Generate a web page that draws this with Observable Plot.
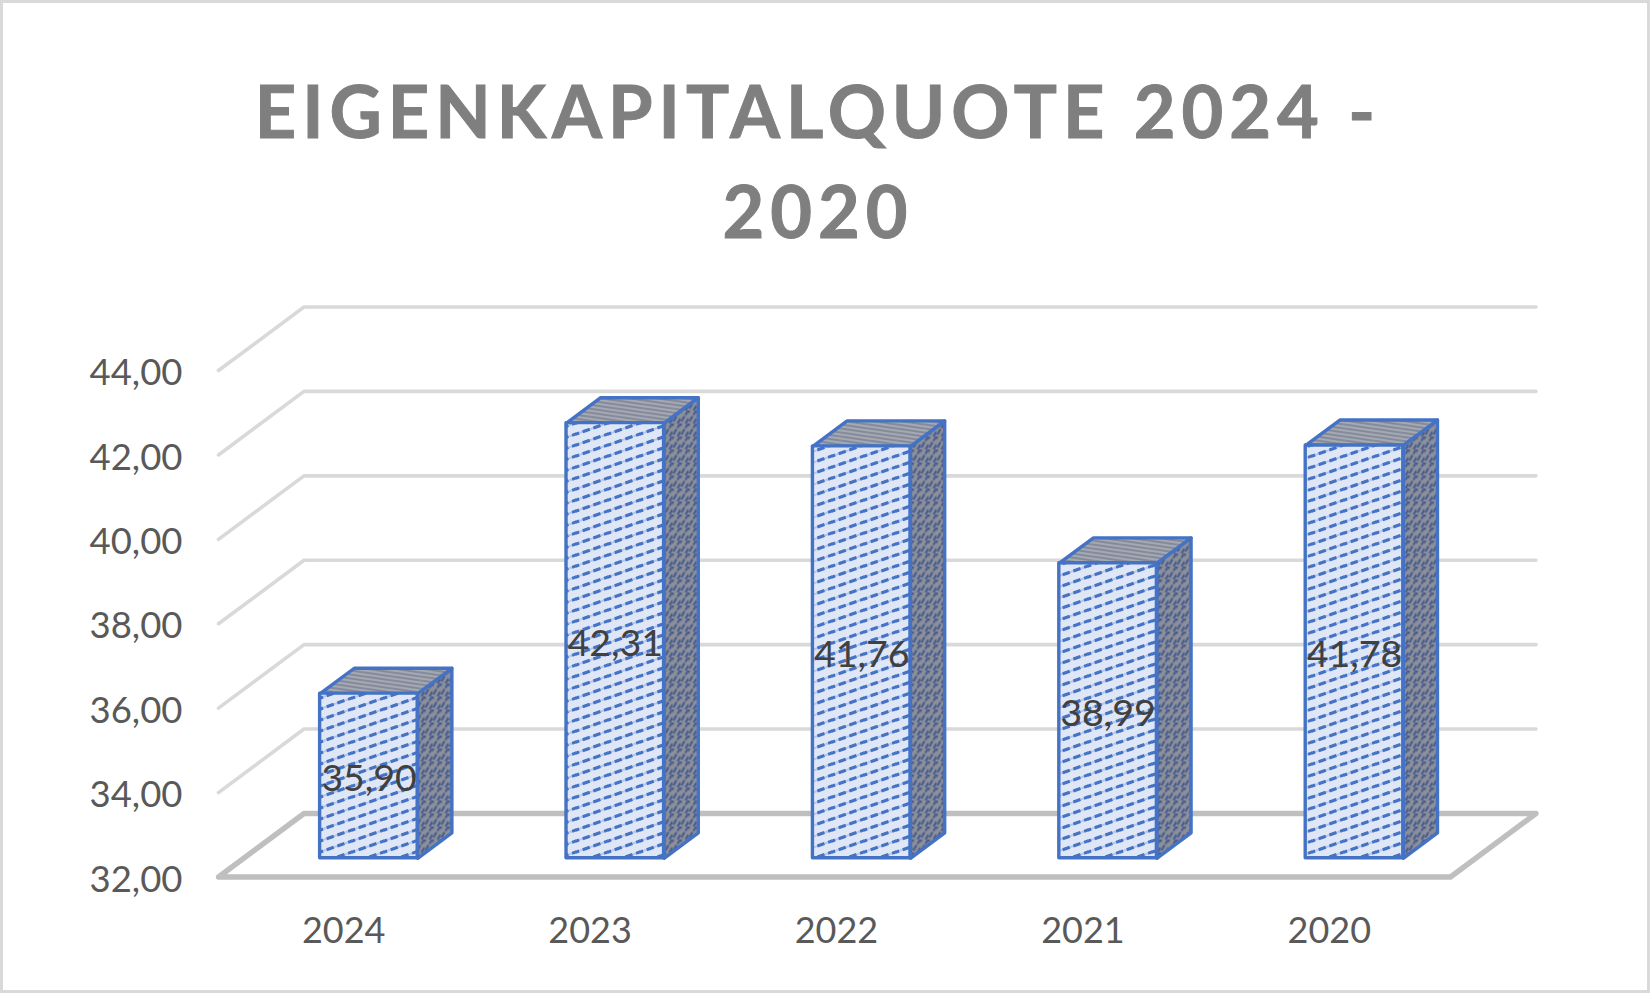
<!DOCTYPE html>
<html lang="de">
<head>
<meta charset="utf-8">
<title>Eigenkapitalquote 2024 - 2020</title>
<script src="https://cdn.jsdelivr.net/npm/d3@7"></script>
<script src="https://cdn.jsdelivr.net/npm/@observablehq/plot@0.6"></script>
<style>
  html, body { margin: 0; padding: 0; background: #fff; }
  #chart { position: relative; width: 1650px; height: 993px; overflow: hidden; }
  #chart::after { content: ""; position: absolute; inset: 0; border: 3px solid #d9d9d9; pointer-events: none; }
  h1 {
    margin: 0; height: 280px; box-sizing: border-box; padding: 60px 14px 0 0;
    font: 700 72px/100px Lato, sans-serif; letter-spacing: 6px;
    -webkit-text-stroke: 1px #7f7f7f;
    color: #7f7f7f; text-align: center;
  }
  svg { display: block; }
</style>
</head>
<body>
<div id="chart">
  <h1>EIGENKAPITALQUOTE 2024 -<br>2020</h1>
</div>
<script>
const categories = ["2024", "2023", "2022", "2021", "2020"];
const values = [35.90, 42.31, 41.76, 38.99, 41.78];
const gridValues = [32, 34, 36, 38, 40, 42, 44];

const yBase = 32;
const yMax = 44;
const depthX = 0.347;   // category units covered by the full chart depth
const depthY = 1.505;   // value units covered by the full chart depth
const barWidth = 0.396; // share of a category step
const barOffset = 0.008;
const barDepth = [0.295, 0.695];

const comma = (v) => v.toFixed(2).replace(".", ",");
const px = (i, side, d) => i + 0.5 + barOffset + side * barWidth / 2 + d * depthX;
const py = (v, d) => v + d * depthY;

const gridPaths = gridValues.slice(1).flatMap((v) => [
  {v, x: 0, y: v},
  {v, x: depthX, y: py(v, 1)},
  {v, x: categories.length + depthX, y: py(v, 1)}
]);
const floor = [
  {x: 0, y: yBase},
  {x: depthX, y: py(yBase, 1)},
  {x: categories.length + depthX, y: py(yBase, 1)},
  {x: categories.length, y: yBase}
];

const [d0, d1] = barDepth;
const bars = values.map((v, i) => ({i, v, label: comma(v)}));
const sides = bars.flatMap(({i, v}) => [
  {i, x: px(i, 1, d0), y: py(yBase, d0)},
  {i, x: px(i, 1, d1), y: py(yBase, d1)},
  {i, x: px(i, 1, d1), y: py(v, d1)},
  {i, x: px(i, 1, d0), y: py(v, d0)}
]);
const tops = bars.flatMap(({i, v}) => [
  {i, x: px(i, -1, d0), y: py(v, d0)},
  {i, x: px(i, -1, d1), y: py(v, d1)},
  {i, x: px(i, 1, d1), y: py(v, d1)},
  {i, x: px(i, 1, d0), y: py(v, d0)}
]);

const patterns = () => {
  const defs = d3.create("svg:defs");
  const add = (id, w, h, bg, layers) => {
    const p = defs.append("pattern").attr("id", id).attr("patternUnits", "userSpaceOnUse")
      .attr("width", w).attr("height", h);
    p.append("rect").attr("width", w).attr("height", h).attr("fill", bg);
    for (const [stroke, sw, d, dash] of layers) {
      p.append("path").attr("d", d).attr("stroke", stroke).attr("stroke-width", sw)
        .attr("fill", "none").attr("stroke-dasharray", dash || null);
    }
  };
  const frontLine = "M-4 12.4L36 -1.4M-4 23.4L36 9.6M-4 1.4L36 -12.4";
  add("hatchFront", 32, 11, "#dfe7f6", [
    ["#b4c5e9", 1.8, frontLine],
    ["#4472c4", 3.1, frontLine, "7.5 3.8"]
  ]);
  add("hatchSide", 8, 13, "#8d9098", [
    ["#43588f", 2, "M1 11L4 5.5M5 4.5L7.5 0M-1 3.5L1 0M5 13L8 8"]
  ]);
  add("hatchTop", 28, 4, "#a6a9b1", [
    ["#66718a", 1.2, "M-4 -0.57L32 4.57M-4 -4.57L32 0.57M-4 3.43L32 8.57"]
  ]);
  return defs.node();
};

const frontLeft = (d) => px(d.i, -1, d0);
const frontRight = (d) => px(d.i, 1, d0);

const plot = Plot.plot({
  width: 1650,
  height: 713,
  marginLeft: 218,
  marginRight: 114.5,
  marginTop: 26.5,
  marginBottom: 116.5,
  style: {background: "transparent", fontFamily: "Lato, sans-serif"},
  x: {type: "linear", domain: [0, categories.length + depthX]},
  y: {type: "linear", domain: [yBase, py(yMax, 1)]},
  marks: [
    patterns,
    Plot.line(gridPaths, {x: "x", y: "y", z: "v", stroke: "#d9d9d9", strokeWidth: 3.6}),
    Plot.line(floor, {x: "x", y: "y", curve: "linear-closed", stroke: "#bfbfbf", strokeWidth: 5.4, strokeLinejoin: "round"}),
    Plot.line(sides, {x: "x", y: "y", z: "i", curve: "linear-closed", fill: "url(#hatchSide)", stroke: "#4472c4", strokeWidth: 3.4, strokeLinejoin: "round"}),
    Plot.line(tops, {x: "x", y: "y", z: "i", curve: "linear-closed", fill: "url(#hatchTop)", stroke: "#4472c4", strokeWidth: 3.4, strokeLinejoin: "round"}),
    Plot.rect(bars, {x1: frontLeft, x2: frontRight, y1: py(yBase, d0), y2: (d) => py(d.v, d0), fill: "url(#hatchFront)", stroke: "#4472c4", strokeWidth: 3.4, strokeLinejoin: "round"}),
    Plot.text(bars, {
      x: (d) => px(d.i, 0, d0),
      y: (d) => (py(yBase, d0) + py(d.v, d0)) / 2,
      text: "label", fontSize: 37.5, fill: "#404040", textAnchor: "middle", lineAnchor: "middle", dx: 0, dy: 3
    }),
    Plot.axisY({
      ticks: gridValues, tickFormat: comma, tickSize: 0, tickPadding: 36,
      fontSize: 36.5, color: "#595959", label: null, dy: 3
    }),
    Plot.axisX({
      ticks: categories.map((_, i) => i + 0.5), tickFormat: (t) => categories[Math.floor(t)],
      tickSize: 0, tickPadding: 36, fontSize: 36, color: "#595959", label: null, dx: 2, dy: 4
    })
  ]
});
document.getElementById("chart").appendChild(plot);
</script>
</body>
</html>
